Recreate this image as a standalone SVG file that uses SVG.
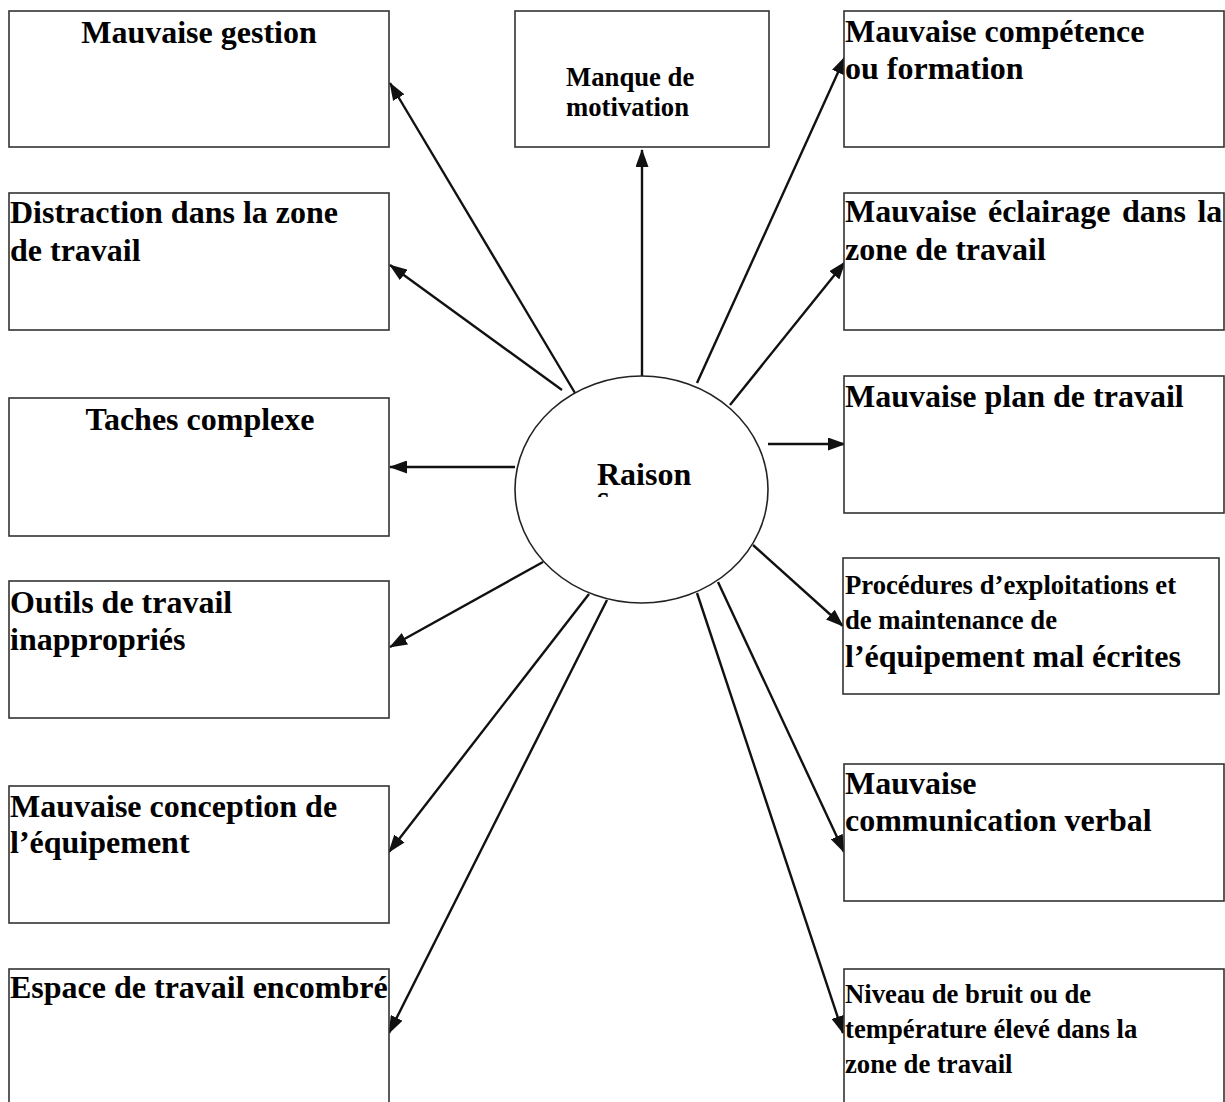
<svg xmlns="http://www.w3.org/2000/svg" width="1225" height="1102" viewBox="0 0 1225 1102">
  <style>
    .box { fill: #ffffff; stroke: #333333; stroke-width: 1.6; }
    .lbl { font-family: "Liberation Serif", "Times New Roman", serif; font-weight: bold; fill: #000000; }
    .big { font-size: 32px; }
    .small { font-size: 26.7px; }
    .mid { text-anchor: middle; }
    .link { stroke: #111111; stroke-width: 2.4; fill: none; marker-end: url(#arr); }
  </style>
  <defs>
    <marker id="arr" viewBox="0 0 18 13" refX="17" refY="6.5" markerWidth="18" markerHeight="13" orient="auto" markerUnits="userSpaceOnUse">
      <path d="M0,0 L18,6.5 L0,13 z" fill="#111111"/>
    </marker>
    <clipPath id="hubClip">
      <rect x="560" y="380" width="160" height="117"/>
    </clipPath>
  </defs>
  <rect width="1225" height="1102" fill="#ffffff"/>

  <!-- connectors from the central ellipse to each cause -->
  <g id="connectors">
    <line class="link" x1="575" y1="393" x2="390" y2="83"/>
    <line class="link" x1="642" y1="376" x2="642" y2="150"/>
    <line class="link" x1="697" y1="383" x2="845" y2="57"/>
    <line class="link" x1="562" y1="390" x2="390" y2="265"/>
    <line class="link" x1="730" y1="405" x2="845" y2="262"/>
    <line class="link" x1="515" y1="467" x2="390" y2="467"/>
    <line class="link" x1="768" y1="444" x2="845" y2="444"/>
    <line class="link" x1="543" y1="562" x2="390" y2="647"/>
    <line class="link" x1="753" y1="545" x2="843" y2="626"/>
    <line class="link" x1="589" y1="594" x2="389" y2="852"/>
    <line class="link" x1="607" y1="600" x2="389" y2="1033"/>
    <line class="link" x1="718" y1="582" x2="844" y2="852"/>
    <line class="link" x1="697" y1="593" x2="843" y2="1033"/>
  </g>

  <!-- central node: the label wraps and its second line is cut off by the text frame -->
  <g id="raisons">
    <ellipse cx="641.5" cy="489.5" rx="126.5" ry="113.5" fill="#ffffff" stroke="#222222" stroke-width="1.6"/>
    <text class="lbl big" x="597" y="485" clip-path="url(#hubClip)">Raison<tspan x="597" y="508">s</tspan></text>
  </g>

  <!-- left column -->
  <g id="mauvaise-gestion">
    <rect class="box" x="9" y="11" width="380" height="136"/>
    <text class="lbl big mid" x="199" y="43">Mauvaise gestion</text>
  </g>
  <g id="distraction">
    <rect class="box" x="9" y="193" width="380" height="137"/>
    <text class="lbl big" x="10" y="223">Distraction dans la zone</text>
    <text class="lbl big" x="10" y="261">de travail</text>
  </g>
  <g id="taches-complexe">
    <rect class="box" x="9" y="398" width="380" height="138"/>
    <text class="lbl big mid" x="200" y="430">Taches complexe</text>
  </g>
  <g id="outils">
    <rect class="box" x="9" y="581" width="380" height="137"/>
    <text class="lbl big" x="10" y="613">Outils de travail</text>
    <text class="lbl big" x="10" y="650">inappropriés</text>
  </g>
  <g id="conception">
    <rect class="box" x="9" y="786" width="380" height="137"/>
    <text class="lbl big" x="10" y="817">Mauvaise conception de</text>
    <text class="lbl big" x="10" y="853">l’équipement</text>
  </g>
  <g id="espace">
    <rect class="box" x="9" y="969" width="380" height="140"/>
    <text class="lbl big" x="10" y="998">Espace de travail encombré</text>
  </g>

  <!-- top middle -->
  <g id="motivation">
    <rect class="box" x="515" y="11" width="254" height="136"/>
    <text class="lbl small" x="566" y="86">Manque de</text>
    <text class="lbl small" x="566" y="116">motivation</text>
  </g>

  <!-- right column -->
  <g id="competence">
    <rect class="box" x="844" y="11" width="380" height="136"/>
    <text class="lbl big" x="845" y="42">Mauvaise compétence</text>
    <text class="lbl big" x="845" y="79">ou formation</text>
  </g>
  <g id="eclairage">
    <rect class="box" x="844" y="193" width="380" height="137"/>
    <text class="lbl big" x="845" y="222" word-spacing="3.4">Mauvaise éclairage dans la</text>
    <text class="lbl big" x="845" y="260">zone de travail</text>
  </g>
  <g id="plan">
    <rect class="box" x="844" y="376" width="380" height="137"/>
    <text class="lbl big" x="845" y="407">Mauvaise plan de travail</text>
  </g>
  <g id="procedures">
    <rect class="box" x="843" y="558" width="376" height="136"/>
    <text class="lbl small" x="845" y="594">Procédures d’exploitations et</text>
    <text class="lbl small" x="845" y="629">de maintenance de</text>
    <text class="lbl big" x="845" y="667">l’équipement mal écrites</text>
  </g>
  <g id="communication">
    <rect class="box" x="844" y="764" width="380" height="137"/>
    <text class="lbl big" x="845" y="794">Mauvaise</text>
    <text class="lbl big" x="845" y="831">communication verbal</text>
  </g>
  <g id="bruit">
    <rect class="box" x="844" y="969" width="380" height="140"/>
    <text class="lbl small" x="845" y="1003">Niveau de bruit ou de</text>
    <text class="lbl small" x="845" y="1038">température élevé dans la</text>
    <text class="lbl small" x="845" y="1073">zone de travail</text>
  </g>
</svg>
